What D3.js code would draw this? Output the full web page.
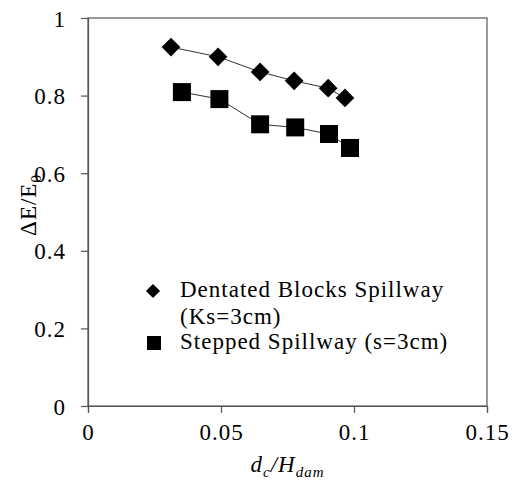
<!DOCTYPE html>
<html>
<head>
<meta charset="utf-8">
<script src="https://cdn.jsdelivr.net/npm/d3@7"></script>
<style>
  body { margin: 0; background: #fff; }
</style>
</head>
<body>
<div id="chart"></div>
<script>
// Données.
const xDentes = [0.0312, 0.0489, 0.0647, 0.0775, 0.0903, 0.0966];
const yDentes = [0.925, 0.900, 0.861, 0.838, 0.819, 0.794];
const xMarches = [0.0353, 0.0494, 0.0647, 0.0779, 0.0906, 0.0985];
const yMarches = [0.809, 0.791, 0.726, 0.718, 0.701, 0.665];
const xTicks = [0, 0.05, 0.1, 0.15];
const yTicks = [0, 0.2, 0.4, 0.6, 0.8, 1];
const legende = ["Dentated Blocks Spillway", "(Ks=3cm)", "Stepped Spillway (s=3cm)"];

const police = "Liberation Serif";
const width = 514, height = 484;
const margin = { top: 18, right: 27, bottom: 78, left: 88 };

const svg = d3.select("#chart").append("svg")
  .attr("width", width)
  .attr("height", height)
  .style("font-family", police)
  .style("letter-spacing", "1px");

const x = d3.scaleLinear().domain([0, 0.15]).range([margin.left, width - margin.right]);
const y = d3.scaleLinear().domain([0, 1]).range([height - margin.bottom, margin.top]);

// Cadre du graphique.
svg.append("rect")
  .attr("x", x(0)).attr("y", y(1))
  .attr("width", x(0.15) - x(0)).attr("height", y(0) - y(1))
  .attr("fill", "none").attr("stroke", "#555").attr("stroke-width", 1.2);

// Axes.
const xAxis = svg.append("g")
  .attr("transform", `translate(0,${y(0)})`)
  .call(d3.axisBottom(x).tickValues(xTicks).tickSize(7).tickPadding(11)
    .tickFormat(d => d3.format("")(+d.toFixed(2))));
const yAxis = svg.append("g")
  .attr("transform", `translate(${x(0)},0)`)
  .call(d3.axisLeft(y).tickValues(yTicks).tickSize(7).tickPadding(15)
    .tickFormat(d => d3.format("")(+d.toFixed(1))));
[xAxis, yAxis].forEach(a => {
  a.attr("font-family", null).attr("font-size", null);
  a.select(".domain").attr("stroke", "#555").attr("stroke-width", 1.2);
  a.selectAll(".tick line").attr("stroke", "#555").attr("stroke-width", 1.2);
  a.selectAll(".tick text").style("font-size", "23px").attr("fill", "#000");
});
yAxis.selectAll(".tick text").attr("dy", "0.35em");

// Titres des axes.
const xt = svg.append("text")
  .attr("x", (x(0) + x(0.15)) / 2).attr("y", 472)
  .attr("text-anchor", "middle").style("font-size", "23px").attr("font-style", "italic");
xt.append("tspan").text("d");
xt.append("tspan").style("font-size", "15px").attr("dy", 5).text("c");
xt.append("tspan").attr("dy", -5).text("/H");
xt.append("tspan").style("font-size", "15px").attr("dy", 5).text("dam");

const yt = svg.append("text")
  .attr("transform", `translate(36,${(y(0) + y(1)) / 2 - 7}) rotate(-90)`)
  .attr("text-anchor", "middle").style("font-size", "23px");
yt.append("tspan").text("ΔE/E");
yt.append("tspan").style("font-size", "15px").attr("dy", 5).text("0");

// Lignes et marqueurs.
const ligne = (xs, ys) => d3.line()(xs.map((v, i) => [x(v), y(ys[i])]));
svg.append("path").attr("d", ligne(xDentes, yDentes))
  .attr("fill", "none").attr("stroke", "#333").attr("stroke-width", 1);
svg.append("path").attr("d", ligne(xMarches, yMarches))
  .attr("fill", "none").attr("stroke", "#333").attr("stroke-width", 1);

const losange = d3.symbol().type(d3.symbolSquare).size(175);
svg.selectAll(".losange").data(xDentes).join("path")
  .attr("class", "losange")
  .attr("d", losange)
  .attr("transform", (d, i) => `translate(${x(d)},${y(yDentes[i])}) rotate(45)`)
  .attr("fill", "#000");

const carre = 18;
svg.selectAll(".carre").data(xMarches).join("rect")
  .attr("class", "carre")
  .attr("x", d => x(d) - carre / 2)
  .attr("y", (d, i) => y(yMarches[i]) - carre / 2)
  .attr("width", carre).attr("height", carre)
  .attr("fill", "#000");

// Légende.
svg.append("path")
  .attr("d", d3.symbol().type(d3.symbolSquare).size(100))
  .attr("transform", "translate(153,291) rotate(45)").attr("fill", "#000");
svg.append("rect").attr("x", 147).attr("y", 336).attr("width", 14).attr("height", 14).attr("fill", "#000");
[297, 324, 349].forEach((by, i) => {
  svg.append("text").attr("x", 180).attr("y", by).style("font-size", "23px").text(legende[i]);
});
</script>
</body>
</html>
